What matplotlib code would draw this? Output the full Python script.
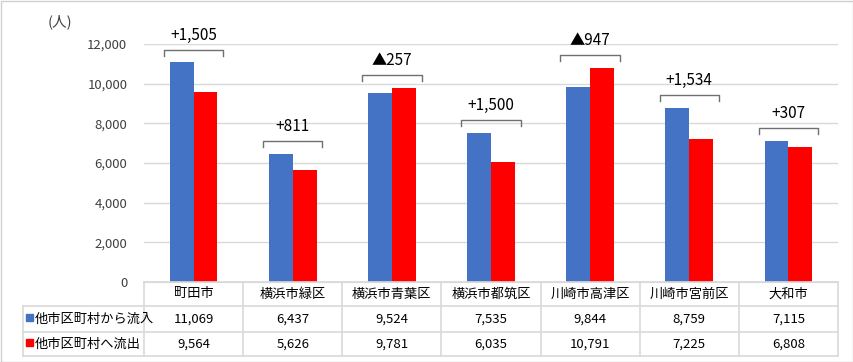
import matplotlib
matplotlib.use("Agg")
import matplotlib.pyplot as plt
from matplotlib.patches import Rectangle
from matplotlib.lines import Line2D

plt.rcParams['font.family'] = ['Noto Sans CJK JP', 'DejaVu Sans']

categories = ["町田市", "横浜市緑区", "横浜市青葉区", "横浜市都筑区", "川崎市高津区", "川崎市宮前区", "大和市"]
inflow = [11069, 6437, 9524, 7535, 9844, 8759, 7115]
outflow = [9564, 5626, 9781, 6035, 10791, 7225, 6808]
series_names = ["他市区町村から流入", "他市区町村へ流出"]
yticks = [0, 2000, 4000, 6000, 8000, 10000, 12000]

BLUE = "#4472C4"
RED = "#FF0000"
GRID = "#d9d9d9"
TXT = "#404040"

W, H = 854, 362
fig = plt.figure(figsize=(W / 100, H / 100), dpi=100)

def fx(px):
    return px / W

def fy(py):
    return 1 - py / H

# figure border
fig.patches.append(Rectangle((0.5 / W, 0.5 / H), 1 - 1.5 / W, 1 - 1.5 / H, transform=fig.transFigure,
                             fill=False, edgecolor="#d0d0d0", linewidth=1))

x0, x1 = 144, 838
y0, y1 = 282, 44
ax = fig.add_axes([fx(x0), fy(y0), fx(x1) - fx(x0), fy(y1) - fy(y0)])
n = len(categories)
xs = list(range(n))
bw = 0.24
ax.bar([x - bw / 2 for x in xs], inflow, width=bw, color=BLUE, zorder=3)
ax.bar([x + bw / 2 for x in xs], outflow, width=bw, color=RED, zorder=3)
ax.set_xlim(-0.5, n - 0.5)
ax.set_ylim(0, 12000)
ax.set_yticks(yticks)
ax.set_yticklabels([f"{v:,}" for v in yticks], fontsize=9.5, color=TXT)
ax.tick_params(axis='y', length=0, pad=12)
ax.set_xticks([])
ax.grid(axis='y', color=GRID, linewidth=1, zorder=0)
for s in ["top", "right", "left"]:
    ax.spines[s].set_visible(False)
ax.spines["bottom"].set_color(GRID)

# brackets with differences
for i in range(n):
    diff = inflow[i] - outflow[i]
    label = f"+{diff:,}" if diff >= 0 else f"▲{-diff:,}"
    top = max(inflow[i], outflow[i]) + 650
    hw = 0.3
    ax.plot([i - hw, i - hw, i + hw, i + hw], [top - 300, top, top, top - 300],
            color="#707070", linewidth=1, clip_on=False, zorder=4)
    ax.text(i, top + 300, label, ha="center", va="bottom", fontsize=11, color="black", clip_on=False)

fig.text(fx(48), fy(22), "(人)", fontsize=10.5, color=TXT, ha="left", va="center")

# data table
tax = fig.add_axes([0, 0, 1, 1])
tax.set_xlim(0, W)
tax.set_ylim(H, 0)
tax.axis("off")
rows = [282, 306, 332, 356]
left = 23
colw = (x1 - x0) / n
lc = dict(color=GRID, linewidth=1.2)
tax.add_line(Line2D([x0, x1], [rows[0], rows[0]], **lc))
for r in rows[1:]:
    tax.add_line(Line2D([left, x1], [r, r], **lc))
tax.add_line(Line2D([left, left], [rows[1], rows[3]], **lc))
for k in range(n + 1):
    xx = x0 + k * colw
    tax.add_line(Line2D([xx, xx], [rows[0], rows[3]], **lc))
for k, c in enumerate(categories):
    cx = x0 + (k + 0.5) * colw
    tax.text(cx, (rows[0] + rows[1]) / 2, c, ha="center", va="center", fontsize=9.5, color="black")
    tax.text(cx, (rows[1] + rows[2]) / 2, f"{inflow[k]:,}", ha="center", va="center", fontsize=9.5, color="black")
    tax.text(cx, (rows[2] + rows[3]) / 2, f"{outflow[k]:,}", ha="center", va="center", fontsize=9.5, color="black")
for j, (name, col) in enumerate(zip(series_names, [BLUE, RED])):
    cy = (rows[1 + j] + rows[2 + j]) / 2
    tax.add_patch(Rectangle((26, cy - 5), 7, 7, color=col))
    tax.text(35, cy, name, ha="left", va="center", fontsize=9.5, color="black")

fig.savefig("out.png", dpi=100)
